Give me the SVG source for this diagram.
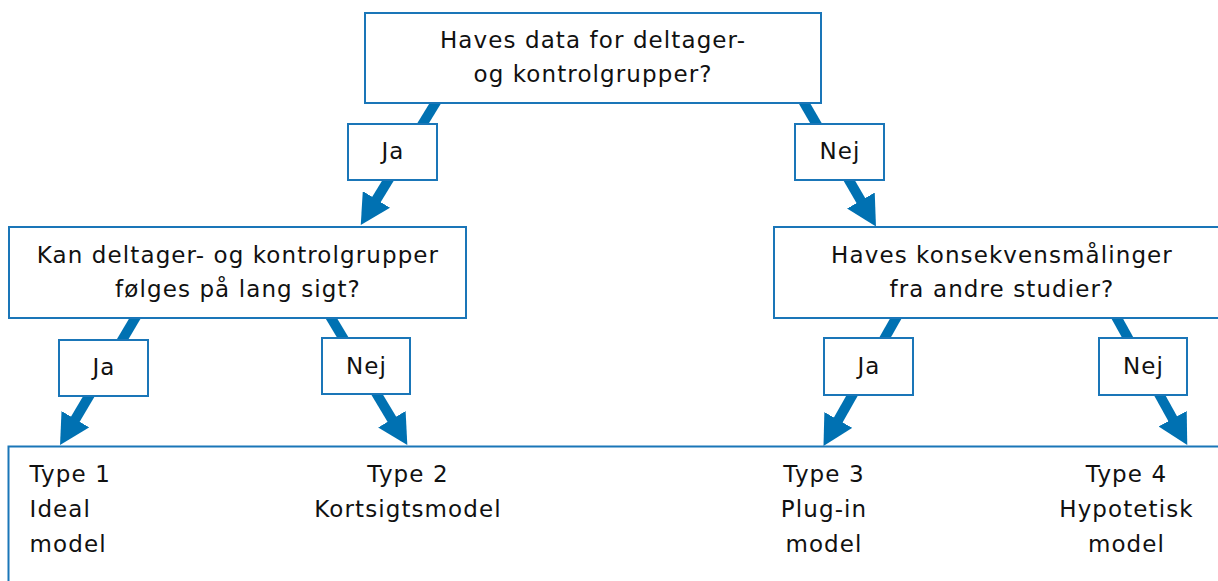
<svg xmlns="http://www.w3.org/2000/svg" width="1218" height="581" viewBox="0 0 1218 581">
  <style>
    .box { fill: #ffffff; stroke: #1A76B8; stroke-width: 2; }
    .arrow { stroke: #0071B2; stroke-width: 10; fill: none; marker-end: url(#head); }
    text { font-family: "DejaVu Sans", Verdana, sans-serif; font-size: 23px; letter-spacing: 1.1px; fill: #111111; }
    .c { text-anchor: middle; }
  </style>
  <defs>
    <marker id="head" markerUnits="userSpaceOnUse" viewBox="0 -16 31 32" refX="1" refY="0" markerWidth="31" markerHeight="32" orient="auto">
      <path d="M0,-16 L30,0 L0,16 Z" fill="#0071B2"/>
    </marker>
  </defs>

  <!-- connectors (drawn first so boxes sit on top) -->
  <g id="connectors">
    <line class="arrow" x1="437.3" y1="100" x2="375.9" y2="200.3"/>
    <line class="arrow" x1="802.5" y1="100" x2="861.4" y2="201.4"/>
    <line class="arrow" x1="137" y1="315" x2="74.8" y2="420.1"/>
    <line class="arrow" x1="329.3" y1="315" x2="392.4" y2="420.1"/>
    <line class="arrow" x1="897.8" y1="315" x2="837.8" y2="420.8"/>
    <line class="arrow" x1="1115.2" y1="315" x2="1173.2" y2="419.6"/>
  </g>

  <!-- question: data for both groups -->
  <g id="q-data">
    <rect class="box" x="365" y="13" width="456" height="90"/>
    <text class="c" x="593" y="48">Haves data for deltager-</text>
    <text class="c" x="593" y="82">og kontrolgrupper?</text>
  </g>

  <!-- question: long-term follow-up -->
  <g id="q-follow">
    <rect class="box" x="9" y="227" width="457" height="91"/>
    <text class="c" x="238" y="263">Kan deltager- og kontrolgrupper</text>
    <text class="c" x="238" y="297">følges på lang sigt?</text>
  </g>

  <!-- question: measurements from other studies -->
  <g id="q-other">
    <rect class="box" x="774" y="227" width="460" height="91"/>
    <text class="c" x="1002" y="263">Haves konsekvensmålinger</text>
    <text class="c" x="1002" y="297">fra andre studier?</text>
  </g>

  <!-- answer labels -->
  <g id="lbl-top-ja">
    <rect class="box" x="348" y="124" width="89" height="56"/>
    <text class="c" x="393" y="158.5">Ja</text>
  </g>
  <g id="lbl-top-nej">
    <rect class="box" x="795" y="124" width="89" height="56"/>
    <text class="c" x="840" y="158.5">Nej</text>
  </g>
  <g id="lbl-left-ja">
    <rect class="box" x="59" y="340" width="89" height="56"/>
    <text class="c" x="104" y="374.5">Ja</text>
  </g>
  <g id="lbl-left-nej">
    <rect class="box" x="322" y="338" width="88" height="56"/>
    <text class="c" x="366.5" y="373.5">Nej</text>
  </g>
  <g id="lbl-right-ja">
    <rect class="box" x="824" y="338" width="89" height="57"/>
    <text class="c" x="869" y="374">Ja</text>
  </g>
  <g id="lbl-right-nej">
    <rect class="box" x="1099" y="338" width="88" height="57"/>
    <text class="c" x="1143.5" y="374">Nej</text>
  </g>

  <!-- resulting model types -->
  <g id="types">
    <rect class="box" x="8.5" y="446.5" width="1240" height="200"/>
    <text x="29.5" y="482">Type 1</text>
    <text x="29.5" y="517">Ideal</text>
    <text x="29.5" y="552">model</text>
    <text class="c" x="408" y="482">Type 2</text>
    <text class="c" x="408" y="517">Kortsigtsmodel</text>
    <text class="c" x="824" y="482">Type 3</text>
    <text class="c" x="824" y="517">Plug-in</text>
    <text class="c" x="824" y="552">model</text>
    <text class="c" x="1126.5" y="482">Type 4</text>
    <text class="c" x="1126.5" y="517">Hypotetisk</text>
    <text class="c" x="1126.5" y="552">model</text>
  </g>
</svg>
